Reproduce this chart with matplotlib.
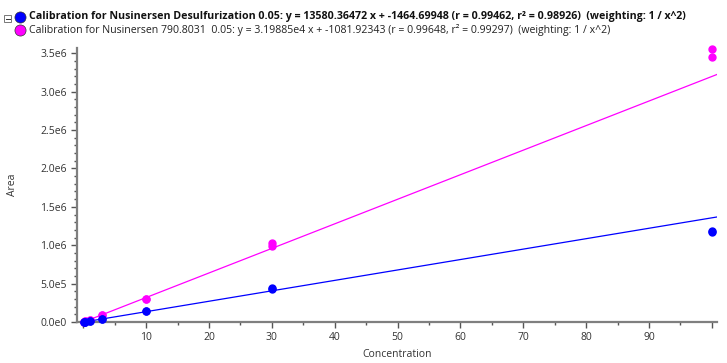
import matplotlib.pyplot as plt
import numpy as np
from matplotlib.ticker import MultipleLocator, FuncFormatter
from matplotlib.patches import Rectangle

# calibration points (each level measured twice)
conc = [0.1, 0.1, 0.3, 0.3, 1, 1, 3, 3, 10, 10, 30, 30, 100, 100]
area_desulf = [1.3e3, 1.2e3, 4.0e3, 3.8e3, 1.3e4, 1.25e4, 4.1e4, 3.9e4,
               1.42e5, 1.38e5, 4.48e5, 4.36e5, 1.185e6, 1.17e6]
area_790 = [2.1e3, 2.0e3, 8.5e3, 8.0e3, 3.0e4, 2.9e4, 9.2e4, 8.8e4,
            3.02e5, 2.98e5, 1.03e6, 0.99e6, 3.56e6, 3.45e6]

# fitted lines
slope_desulf, icpt_desulf = 13580.36472, -1464.69948
slope_790, icpt_790 = 3.19885e4, -1081.92343

label_desulf = ("Calibration for Nusinersen Desulfurization 0.05: y = 13580.36472 x + -1464.69948 "
                "(r = 0.99462, r\u00b2 = 0.98926)  (weighting: 1 / x^2)")
label_790 = ("Calibration for Nusinersen 790.8031  0.05: y = 3.19885e4 x + -1081.92343 "
             "(r = 0.99648, r\u00b2 = 0.99297)  (weighting: 1 / x^2)")

plt.rcParams['font.family'] = ['Open Sans', 'DejaVu Sans']

fig = plt.figure(figsize=(7.27, 3.63), dpi=100)
ax = fig.add_axes([0.106, 0.113, 0.88, 0.755])

xmin, xmax = -1, 100.8
xl = np.array([0, xmax])
ax.plot(xl, slope_790 * xl + icpt_790, color='#ff00ff', lw=0.9, zorder=2)
ax.plot(xl, slope_desulf * xl + icpt_desulf, color='#0000ff', lw=0.9, zorder=2)
ax.plot(conc, area_790, 'o', color='#ff00ff', ms=5, zorder=3, clip_on=False)
ax.plot(conc, area_desulf, 'o', color='#0000ff', ms=5, zorder=3, clip_on=False)

ax.set_xlim(xmin, xmax)
ax.set_ylim(0, 3.57e6)

ax.xaxis.set_major_locator(MultipleLocator(10))
ax.xaxis.set_minor_locator(MultipleLocator(5))
ax.yaxis.set_major_locator(MultipleLocator(5e5))
ax.yaxis.set_minor_locator(MultipleLocator(1e5))
ax.xaxis.set_major_formatter(FuncFormatter(lambda v, p: '' if v <= 0 or v >= 100 else '%d' % v))


def sci(v, p):
    if abs(v) < 1:
        return '0.0e0'
    if v < 0:
        return ''
    e = int(np.floor(np.log10(v)))
    return '%.1fe%d' % (v / 10 ** e, e)


ax.yaxis.set_major_formatter(FuncFormatter(sci))

for s in ['top', 'right']:
    ax.spines[s].set_visible(False)
for s in ['left', 'bottom']:
    ax.spines[s].set_color('#7f7f7f')
    ax.spines[s].set_linewidth(1.6)
ax.tick_params(which='both', colors='#555555', labelcolor='#333333', labelsize=7.5)
ax.tick_params(which='major', length=4, width=1)
ax.tick_params(which='minor', length=2, width=1)

ax.set_xlabel('Concentration', fontsize=7.5, color='#333333', labelpad=4)
ax.set_ylabel('Area', fontsize=7.5, color='#333333', labelpad=16)

# legend header
fig.patches.append(Rectangle((4 / 727, 1 - 22 / 363), 7 / 727, 7 / 363, transform=fig.transFigure,
                             fill=False, edgecolor='#777777', lw=0.7))
fig.lines.append(plt.Line2D([5.5 / 727, 9.5 / 727], [1 - 18.5 / 363] * 2, transform=fig.transFigure,
                            color='#333333', lw=0.7))
fig.lines.append(plt.Line2D([20 / 727], [1 - 17 / 363], transform=fig.transFigure, marker='o',
                            ms=8, color='#0000ff', mec='#333333', mew=0.5))
fig.lines.append(plt.Line2D([20 / 727], [1 - 30 / 363], transform=fig.transFigure, marker='o',
                            ms=8, color='#ff00ff', mec='#333333', mew=0.5))
fig.text(29 / 727, 1 - 17 / 363, label_desulf, fontsize=7.65, fontweight='bold', va='center',
         color='#111111')
fig.text(29 / 727, 1 - 30 / 363, label_790, fontsize=7.6, va='center', color='#222222')

fig.savefig('out.png', dpi=100)
